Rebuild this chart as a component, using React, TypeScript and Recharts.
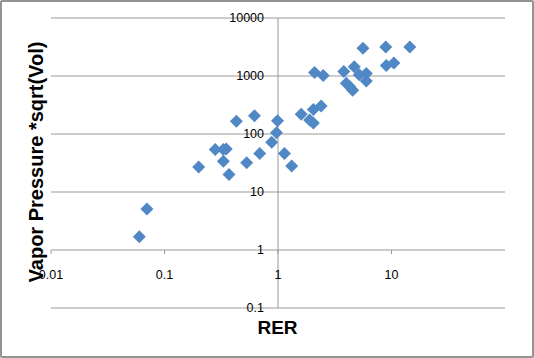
import { ScatterChart, Scatter, XAxis, YAxis, ReferenceLine, ReferenceDot } from 'recharts';

// RER on the x axis, vapor pressure * sqrt(volume) on the y axis
const rer = [0.06, 0.07, 0.2, 0.28, 0.33, 0.35, 0.33, 0.37, 0.43, 0.53, 0.62, 0.69, 0.88, 0.97, 0.99, 1.14, 1.32, 1.6, 1.9, 2.05, 2.05, 2.4, 2.1, 2.5, 3.8, 4.0, 4.3, 4.55, 4.7, 5.2, 6.0, 6.0, 5.6, 8.9, 9.0, 10.5, 14.5];
const vapor = [1.7, 5.1, 27, 54, 54, 55, 34, 20, 166, 32, 206, 46, 72, 105, 170, 46, 28, 220, 175, 155, 265, 305, 1150, 1020, 1200, 750, 650, 570, 1450, 1050, 1100, 820, 3000, 3150, 1520, 1670, 3150];

const xTicks = [0.01, 0.1, 1, 10];
const yTicks = [0.1, 1, 10, 100, 1000, 10000];

const points = rer.map((x, i) => ({ x, y: vapor[i] }));

const axisColor = '#999';

const Diamond = (props: any) => {
  const { cx, cy } = props;
  const r = 6.5;
  return <polygon points={`${cx},${cy - r} ${cx + r},${cy} ${cx},${cy + r} ${cx - r},${cy}`} fill="#5088c6" />;
};

const XTickMark = (props: any) => {
  const { cx, cy } = props;
  return <line x1={cx} y1={cy} x2={cx} y2={cy + 4} stroke={axisColor} />;
};

export default function App() {
  return (
    <div style={{ position: 'absolute', left: 0, top: 0, width: 534, height: 358, background: '#fff', fontFamily: '"Liberation Sans", Arial, sans-serif' }}>
      <ScatterChart width={534} height={358} margin={{ top: 18, right: 29, bottom: 50, left: 51 }}>
        <XAxis type="number" dataKey="x" scale="log" domain={[0.01, 100]} ticks={xTicks} height={0} tick={false} axisLine={false} tickLine={false} allowDataOverflow />
        <YAxis type="number" dataKey="y" scale="log" domain={[0.1, 10000]} ticks={yTicks} width={0} tick={false} axisLine={false} tickLine={false} allowDataOverflow />
        {yTicks.map((v) => (
          <ReferenceLine key={'g' + v} y={v} stroke={axisColor} ifOverflow="visible" />
        ))}
        <ReferenceLine x={1} stroke={axisColor} ifOverflow="visible" />
        {yTicks.map((v) => (
          <ReferenceDot key={'y' + v} x={1} y={v} r={0} ifOverflow="visible" shape={() => <g />}
            label={{ value: String(v), position: 'left', offset: 14, fill: '#000', fontSize: 12.5 }} />
        ))}
        {xTicks.map((v) => (
          <ReferenceDot key={'x' + v} x={v} y={1} r={0} ifOverflow="visible" shape={<XTickMark />}
            label={{ value: String(v), position: 'bottom', offset: 20, fill: '#000', fontSize: 12.5 }} />
        ))}
        <Scatter data={points} shape={<Diamond />} isAnimationActive={false} />
      </ScatterChart>
      <div style={{ position: 'absolute', left: 35.5 - 150, top: 162 - 12, width: 300, height: 24, lineHeight: '24px', textAlign: 'center', fontSize: 20, fontWeight: 'bold', transform: 'rotate(-90deg)', whiteSpace: 'nowrap' }}>
        Vapor Pressure *sqrt(Vol)
      </div>
      <div style={{ position: 'absolute', left: 277.5 - 50, top: 327.5 - 12, width: 100, height: 24, lineHeight: '24px', textAlign: 'center', fontSize: 19, fontWeight: 'bold' }}>
        RER
      </div>
      <div style={{ position: 'absolute', left: 0, top: 0, width: 534, height: 358, boxSizing: 'border-box', border: '2px solid #939393', borderRadius: 2, pointerEvents: 'none' }} />
    </div>
  );
}
